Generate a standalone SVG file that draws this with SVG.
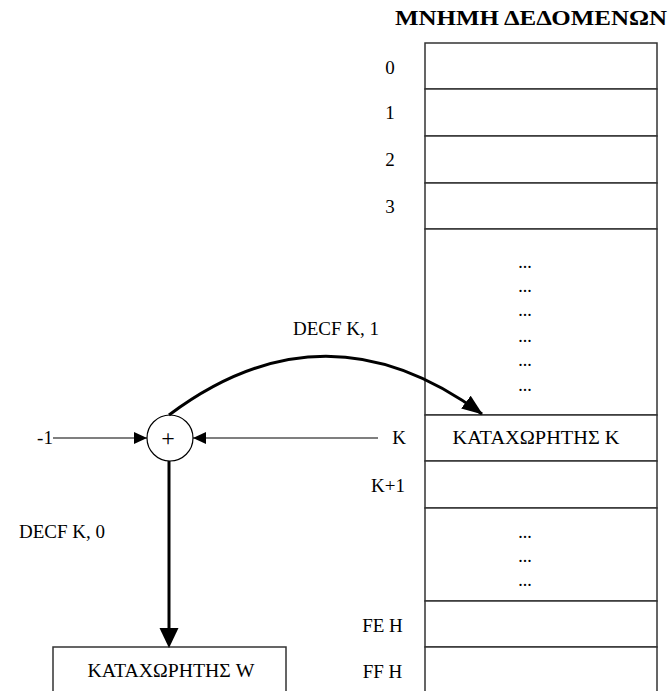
<svg xmlns="http://www.w3.org/2000/svg" width="672" height="691" viewBox="0 0 672 691">
<style>
text{font-family:"Liberation Serif","Times New Roman",serif;font-size:19px;fill:#000;text-anchor:middle}
.title{font-weight:bold;font-size:20px}
.dots{font-size:18px}
.plus{font-size:24px}
.cell{fill:#fff;stroke:#333;stroke-width:1.5}
.thin{fill:none;stroke:#000;stroke-width:1.2}
.thick{fill:none;stroke:#000;stroke-width:3}
</style>
<defs>
<marker id="ah" markerUnits="userSpaceOnUse" markerWidth="14" markerHeight="13" refX="13" refY="6" orient="auto"><path d="M0,0 L13,6 L0,12 z" fill="#000"/></marker>
<marker id="ahBig" markerUnits="userSpaceOnUse" markerWidth="21" markerHeight="20" refX="1" refY="9.5" orient="auto"><path d="M0,0 L20,9.5 L0,19 z" fill="#000"/></marker>
<marker id="ahCurve" markerUnits="userSpaceOnUse" markerWidth="22" markerHeight="17" refX="20" refY="8" orient="auto"><path d="M0,0 L21,8 L0,16 z" fill="#000"/></marker>
</defs>
<rect width="672" height="691" fill="#fff"/>
<text class="title" x="531" y="25" textLength="272" lengthAdjust="spacingAndGlyphs">ΜΝΗΜΗ ΔΕΔΟΜΕΝΩΝ</text>
<g id="memory">
<g id="row0"><rect class="cell" x="425" y="43" width="232" height="46"/><text x="390" y="74">0</text></g>
<g id="row1"><rect class="cell" x="425" y="89" width="232" height="47"/><text x="390" y="119">1</text></g>
<g id="row2"><rect class="cell" x="425" y="136" width="232" height="47"/><text x="390" y="166">2</text></g>
<g id="row3"><rect class="cell" x="425" y="183" width="232" height="46"/><text x="390" y="213">3</text></g>
<g id="rowDots1"><rect class="cell" x="425" y="229" width="232" height="186"/>
<text class="dots" x="525" y="268">...</text><text class="dots" x="525" y="292">...</text><text class="dots" x="525" y="316">...</text><text class="dots" x="525" y="342">...</text><text class="dots" x="525" y="366">...</text><text class="dots" x="525" y="391">...</text></g>
<g id="rowK"><rect class="cell" x="425" y="415" width="232" height="46"/><text x="399" y="444">K</text><text x="536" y="444" textLength="167" lengthAdjust="spacingAndGlyphs">ΚΑΤΑΧΩΡΗΤΗΣ  Κ</text></g>
<g id="rowK1"><rect class="cell" x="425" y="461" width="232" height="47"/><text x="388" y="492">K+1</text></g>
<g id="rowDots2"><rect class="cell" x="425" y="508" width="232" height="93"/>
<text class="dots" x="525" y="538">...</text><text class="dots" x="525" y="562">...</text><text class="dots" x="525" y="586">...</text></g>
<g id="rowFE"><rect class="cell" x="425" y="601" width="232" height="46"/><text x="382.5" y="632">FE H</text></g>
<g id="rowFF"><rect class="cell" x="425" y="647" width="232" height="50"/><text x="382.5" y="678">FF H</text></g>
</g>
<g id="adder"><circle cx="170" cy="438" r="23" fill="#fff" stroke="#000" stroke-width="1.2"/><text class="plus" x="168" y="446">+</text></g>
<g id="minusOne"><text x="45" y="444">-1</text></g>
<g id="registerW"><rect class="cell" x="53" y="647" width="233" height="50"/><text x="171" y="677" textLength="167" lengthAdjust="spacingAndGlyphs">ΚΑΤΑΧΩΡΗΤΗΣ W</text></g>
<g id="labels"><text x="336" y="335">DECF K, 1</text><text x="62" y="538">DECF K, 0</text></g>
<g id="connectors">
<line class="thin" x1="53" y1="438" x2="147" y2="438" marker-end="url(#ah)"/>
<line class="thin" x1="378" y1="438" x2="193" y2="438" marker-end="url(#ah)"/>
<path class="thick" d="M169,415 Q325,298 482,414" marker-end="url(#ahCurve)"/>
<line class="thick" x1="169" y1="461" x2="169" y2="629" marker-end="url(#ahBig)"/>
</g>
</svg>
